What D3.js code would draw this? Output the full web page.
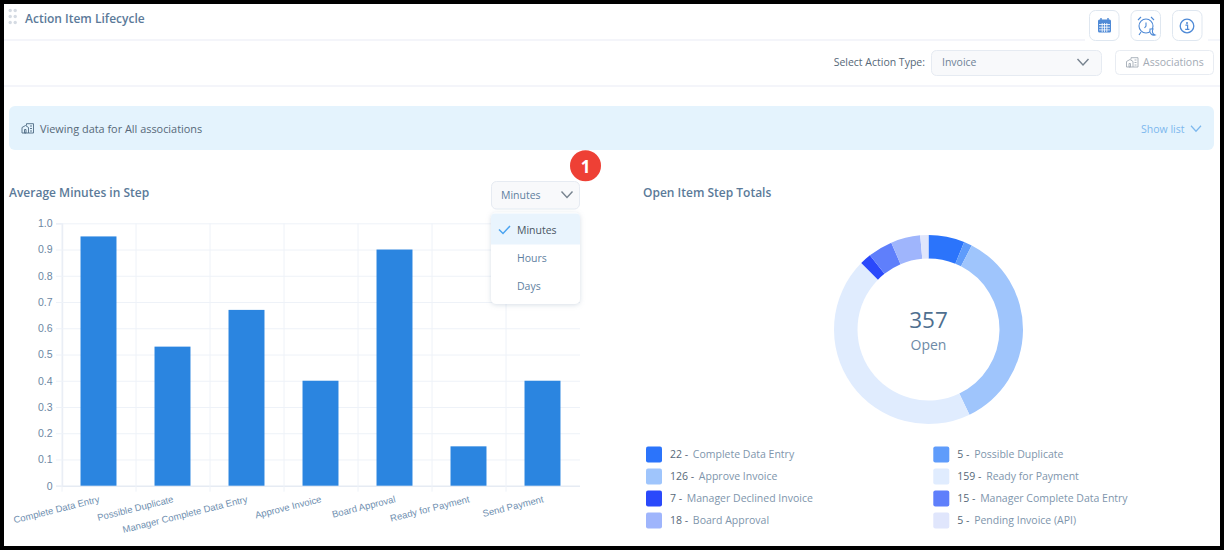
<!DOCTYPE html>
<html>
<head>
<meta charset="utf-8">
<script src="https://cdn.jsdelivr.net/npm/d3@7/dist/d3.min.js"></script>
<style>
html,body{margin:0;padding:0;background:#000;overflow:hidden}
svg{display:block}
text{font-family:"Open Sans","Noto Sans",sans-serif}
</style>
</head>
<body>
<svg id="page" width="1224" height="550"></svg>
<script>
// Average time per workflow step
const stepNames = ["Complete Data Entry","Possible Duplicate","Manager Complete Data Entry","Approve Invoice","Board Approval","Ready for Payment","Send Payment"];
const stepMinutes = [0.95,0.53,0.67,0.40,0.90,0.15,0.40];
const minuteTicks = [0,0.1,0.2,0.3,0.4,0.5,0.6,0.7,0.8,0.9,1.0];

// Open items per step
const openSteps = ["Complete Data Entry","Possible Duplicate","Approve Invoice","Ready for Payment","Manager Declined Invoice","Manager Complete Data Entry","Board Approval","Pending Invoice (API)"];
const openCounts = [22,5,126,159,7,15,18,5];
const openColors = ["#2b74fb","#5f9cfb","#9fc5fc","#e0ecfe","#2a49fb","#5f7ffb","#9fb5fc","#e0e6fc"];

const unitOptions = ["Minutes","Hours","Days"];

const svg = d3.select("#page");
const TITLE = "#5b7a99", BODY = "#5f7f9f", DARK = "#566878", ICON = "#4f8ad6", LINE = "#f0f2f9", EDGE = "#e3e9f2";

function label(x, y, str, size, fill, weight, anchor){
  return svg.append("text").attr("x",x).attr("y",y).attr("font-size",size)
    .attr("fill",fill).attr("font-weight",weight||400).attr("text-anchor",anchor||"start").text(str);
}
function box(x,y,w,h,r,fill,stroke){
  return svg.append("rect").attr("x",x).attr("y",y).attr("width",w).attr("height",h).attr("rx",r)
    .attr("fill",fill).attr("stroke",stroke||"none");
}
function chevron(cx,cy,w,h,color,sw){
  svg.append("path").attr("d",`M${cx-w/2},${cy-h/2}L${cx},${cy+h/2}L${cx+w/2},${cy-h/2}`)
    .attr("fill","none").attr("stroke",color).attr("stroke-width",sw||1.4);
}
// small "buildings" glyph used for associations
function buildings(x,y,color){
  const g = svg.append("g").attr("transform",`translate(${x},${y})`).attr("fill","none").attr("stroke",color).attr("stroke-width",0.9);
  g.append("path").attr("d","M0.5,10V4.5L4,2.5L7,4.5V10Z");
  g.append("path").attr("d","M5,2.5V0.7H12V10H7");
  g.append("path").attr("d","M8.5,3H10.5M8.5,5.5H10.5M8.5,8H10.5");
  g.append("path").attr("d","M3,6.5H4.5V10H3Z");
}

// panel
box(4,4,1216,542,0,"#fff");
svg.append("line").attr("x1",4).attr("x2",1085).attr("y1",40).attr("y2",40).attr("stroke",LINE).attr("stroke-width",1.4);
svg.append("line").attr("x1",1208).attr("x2",1220).attr("y1",40).attr("y2",40).attr("stroke",LINE).attr("stroke-width",1.4);
svg.append("line").attr("x1",4).attr("x2",1220).attr("y1",86).attr("y2",86).attr("stroke",LINE).attr("stroke-width",1.4);

// drag handle and title
[[10.5,11],[15.5,11],[10.5,17],[15.5,17],[10.5,23],[15.5,23]].forEach(d=>
  svg.append("circle").attr("cx",d[0]-0.3).attr("cy",d[1]-0.5).attr("r",1.7).attr("fill","#d5dbe3"));
label(25,22.5,"Action Item Lifecycle",12,TITLE,600);

// header icon buttons
[1089.5,1131,1172.5].forEach(x=>box(x,10.5,29.5,30,6,"#fff","#dfe7f0"));
const cal = svg.append("g").attr("transform","translate(1098,18)");
cal.append("rect").attr("y",1.5).attr("width",13).attr("height",13).attr("rx",1.5).attr("fill",ICON);
cal.append("path").attr("d","M3,0V3M10,0V3").attr("stroke",ICON).attr("stroke-width",1.4);
cal.append("path").attr("d","M1,6.5H12M1,9.2H12M1,11.9H12M4.2,5V14M6.5,5V14M8.8,5V14").attr("stroke","#fff").attr("stroke-width",0.8);
const alarm = svg.append("g").attr("transform","translate(1146,26)").attr("fill","none").attr("stroke",ICON).attr("stroke-width",1.1);
alarm.append("circle").attr("r",7);
alarm.append("path").attr("d","M0,-3.5V0L-1.5,2");
alarm.append("path").attr("d","M-8,-6L-5,-9M8,-6L5,-9M-5,6L-7,9");
alarm.append("path").attr("d","M4,3C3,7 6,10 9,9C6,8 6,5 7,3Z").attr("fill","#fff");
const info = svg.append("g").attr("transform","translate(1187,26)");
info.append("circle").attr("r",6.8).attr("fill","none").attr("stroke",ICON).attr("stroke-width",1.3);
info.append("circle").attr("cy",-3).attr("r",1).attr("fill",ICON);
info.append("path").attr("d","M-1.6,-0.8H0.6V3.2M-1.8,3.4H2.4").attr("fill","none").attr("stroke",ICON).attr("stroke-width",1.2);

// action-type filter row
label(925,66,"Select Action Type:",10.5,DARK,500,"end");
box(931.5,50.5,170,25,5,"#f8f9fb","#e6ebf2");
label(942,66,"Invoice",10.5,"#6f8296");
chevron(1083,62,11,6,"#77838f");
box(1115.5,50.5,98,24,4,"#fff","#e8ecf2");
buildings(1126,57,"#a3abb5");
label(1143,66,"Associations",10.5,"#a3abb5");

// association banner
box(9,106,1205,44,6,"#e4f3fd");
buildings(21.5,123,"#4e6b85");
label(40,133,"Viewing data for All associations",10.9,DARK,500);
label(1141,133,"Show list",10.5,"#7db8ee");
chevron(1196,128.5,10,5.5,"#7db8ee",1.2);

// section headings
label(9,197,"Average Minutes in Step",12,TITLE,600);
label(643,197,"Open Item Step Totals",12,TITLE,600);

// bar chart
const x = d3.scaleBand().domain(stepNames).range([61.5,579.5]).paddingInner(0.514).paddingOuter(0.257);
const xGrid = d3.scaleBand().domain(stepNames).range([62,580]);
const y = d3.scaleLinear().domain([0,1]).range([485.7,223.3]);
const chartFont = '"Liberation Sans",Arial,sans-serif';
const chart = svg.append("g");

const yAxis = d3.axisLeft(y).tickValues(minuteTicks).tickFormat(d=>d===0?"0":d.toFixed(1))
  .tickSize(6).tickPadding(3.5);
const yG = chart.append("g").attr("transform","translate(62,0)").call(yAxis);
yG.select(".domain").attr("stroke","#e6ebf3").attr("stroke-width",1.4);
yG.selectAll(".tick line").attr("stroke","#eef2f8");
yG.selectAll(".tick").append("line").attr("x1",0).attr("x2",518).attr("stroke",d=>d===0?"#e6ebf3":"#eef2f8")
  .attr("stroke-width",d=>d===0?1.6:1);
yG.selectAll("text").attr("fill","#6c87a3").attr("font-size",10.5).style("font-family",chartFont);

const xAxis = d3.axisBottom(xGrid).tickSize(6).tickFormat("");
const xG = chart.append("g").attr("transform","translate(0,485.7)").call(xAxis);
xG.select(".domain").remove();
xG.selectAll(".tick").attr("transform",d=>`translate(${xGrid(d)},0)`);
xG.selectAll(".tick line").attr("stroke","#eef2f8").attr("y1",-262.4);

chart.selectAll("rect.bar").data(stepMinutes).join("rect").attr("class","bar")
  .attr("x",(d,i)=>x(stepNames[i])).attr("width",x.bandwidth())
  .attr("y",d=>y(d)).attr("height",d=>y(0)-y(d)).attr("fill","#2b85e0");

chart.selectAll("text.step").data(stepNames).join("text").attr("class","step")
  .attr("transform",d=>`translate(${x(d)+x.bandwidth()/2+1.5},502) rotate(-14)`)
  .attr("text-anchor","end").attr("font-size",9.5).attr("fill","#6f8fb0")
  .style("font-family",chartFont).text(d=>d);

// unit dropdown, opened over the chart
box(491.5,181.5,88,27.5,5,"#f8f9fb","#e6ebf2");
label(501,199,"Minutes",10.5,BODY);
chevron(567,194.5,11,6,"#77838f");
const shadow = svg.append("defs").append("filter").attr("id","menuShadow")
  .attr("x","-20%").attr("y","-20%").attr("width","140%").attr("height","140%");
shadow.append("feDropShadow").attr("dx",0).attr("dy",1).attr("stdDeviation",2.5).attr("flood-color","#8aa0b8").attr("flood-opacity",0.35);
box(491,212.5,89,91.5,5,"#fff").attr("filter","url(#menuShadow)");
svg.append("path").attr("d","M491,244.5V217.5a4,4 0 0 1 4,-4H576a4,4 0 0 1 4,4V244.5Z").attr("fill","#e9f4fd");
svg.append("path").attr("d","M499,229.5L503,233.5L510,226").attr("fill","none").attr("stroke","#4aa3f0").attr("stroke-width",1.5);
unitOptions.forEach((u,i)=>label(517,234+i*28,u,10.5,i===0?"#4a5563":BODY,i===0?500:400));

// step callout
svg.append("circle").attr("cx",585.5).attr("cy",165.7).attr("r",15.5).attr("fill","#ee4035");
label(585.5,172.5,"1",17,"#fff",700,"middle");

// donut of open items
const pie = d3.pie().sort(null);
const arc = d3.arc().innerRadius(71).outerRadius(94.5);
const donut = svg.append("g").attr("transform","translate(928.5,329.5)");
donut.selectAll("path").data(pie(openCounts)).join("path")
  .attr("d",arc).attr("fill",(d,i)=>openColors[i]);
label(928.5,328,d3.sum(openCounts),22.5,"#4f6f8f",400,"middle");
label(928.5,349.5,"Open",14,"#6d8aa6",400,"middle");

// legend: two columns, filled row by row
openSteps.forEach((name,i)=>{
  const col = i%2, row = Math.floor(i/2);
  const lx = 646+col*287.3, ly = 446.5+row*22;
  box(lx,ly,16,16,2,openColors[i]);
  const t = label(lx+24,ly+11.5,"",10.5,"#7e95ac");
  t.append("tspan").attr("fill","#566878").text(openCounts[i]+" - ");
  t.append("tspan").attr("dx",2).text(name);
});
</script>
</body>
</html>
